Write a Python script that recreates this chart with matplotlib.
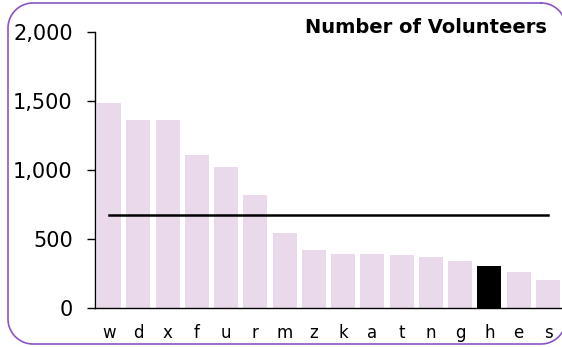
import matplotlib
matplotlib.use('Agg')
import numpy as np
import matplotlib.pyplot as plt

# volunteers per group, sorted high to low
groups = ['w', 'd', 'x', 'f', 'u', 'r', 'm', 'z', 'k', 'a', 't', 'n', 'g', 'h', 'e', 's']
volunteers = [1487, 1365, 1365, 1112, 1025, 816, 541, 419, 390, 390, 383, 368, 339, 303, 260, 202]
highlight = 'h'

y_ticks = [0, 500, 1000, 1500, 2000]
y_labels = ['0', '500', '1,000', '1,500', '2,000']

bar_color = '#ead8eb'
frame_color = '#8a55c2'

W, H = 562, 347
fig = plt.figure(figsize=(W / 100, H / 100), dpi=100)

# background axes in pixel units for the rounded frame
bg = fig.add_axes([0, 0, 1, 1], zorder=-1)
bg.set_xlim(0, W)
bg.set_ylim(H, 0)
bg.axis('off')


def rounded_rect(x0, y0, x1, y1, r, n=30):
    xs, ys = [], []
    corners = [(x1 - r, y0 + r, -90, 0), (x1 - r, y1 - r, 0, 90),
               (x0 + r, y1 - r, 90, 180), (x0 + r, y0 + r, 180, 270)]
    for cx, cy, a0, a1 in corners:
        t = np.radians(np.linspace(a0, a1, n))
        xs.extend(cx + r * np.cos(t))
        ys.extend(cy + r * np.sin(t))
    xs.append(xs[0])
    ys.append(ys[0])
    return xs, ys


fx, fy = rounded_rect(8, 3, 566, 344, 25)
bg.plot(fx, fy, color=frame_color, lw=1.2)

ax = fig.add_axes([95 / W, 39 / H, 467 / W, 276 / H])
ax.patch.set_alpha(0)

x = np.arange(len(groups))
colors = ['black' if g == highlight else bar_color for g in groups]
ax.bar(x, volunteers, width=0.82, color=colors, zorder=2)

# average line spanning first to last bar
avg = np.mean(volunteers)
ax.plot([x[0], x[-1]], [avg, avg], color='black', lw=1.8, zorder=3)

ax.set_xlim(-0.48, len(groups) - 0.52)
ax.set_ylim(0, 2000)
ax.set_xticks(x)
ax.set_xticklabels(groups, fontsize=12)
ax.set_yticks(y_ticks)
ax.set_yticklabels(y_labels, fontsize=15)
ax.tick_params(axis='x', length=0, pad=11.5)
ax.tick_params(axis='y', length=6, width=1, pad=10, direction='out')
for side in ['top', 'right']:
    ax.spines[side].set_visible(False)
for side in ['left', 'bottom']:
    ax.spines[side].set_linewidth(1)

ax.text(0.968, 1.015, 'Number of Volunteers', transform=ax.transAxes,
        ha='right', va='center', fontsize=14, fontweight='bold')

fig.savefig('out.png', dpi=100)
